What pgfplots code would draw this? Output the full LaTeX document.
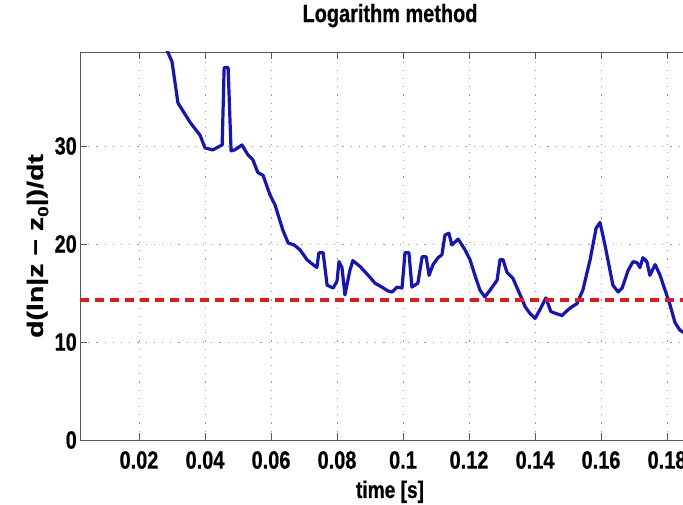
\documentclass[border=0pt]{standalone}
\usepackage{fontspec}
\setmainfont{Liberation Sans}[FakeStretch=0.8, FakeBold=0.6]
\newfontfamily\ylfont{Liberation Sans}[FakeStretch=1.27, FakeBold=0.6]
\usepackage{pgfplots}
\pgfplotsset{compat=1.18}
\definecolor{mblue}{RGB}{20,20,190}
\definecolor{mred}{RGB}{230,25,25}
\begin{document}
\begin{tikzpicture}[x=1bp,y=1bp]
\useasboundingbox (0,0) rectangle (683,505);
\begin{axis}[
  at={(80bp,65bp)}, anchor=south west,
  scale only axis, width=620bp, height=388bp,
  xmin=0.00212, xmax=0.19, ymin=0, ymax=39.59,
  xtick={0.02,0.04,0.06,0.08,0.1,0.12,0.14,0.16,0.18},
  xticklabels={0.02,0.04,0.06,0.08,0.1,0.12,0.14,0.16,0.18},
  ytick={0,10,20,30},
  yticklabels={0,10,20,30},
  scaled x ticks=false,
  /pgf/number format/assume math mode=true,
  tick align=inside,
  major tick length=7bp,
  tick style={black!65, line width=0.9bp},
  axis line style={black!65, line width=0.9bp},
  grid=major,
  major grid style={gray!80, line width=0.8bp, dash pattern=on 1.2bp off 7bp},
  xticklabel style={font=\fontsize{25}{28}\selectfont\bfseries, anchor=north, inner sep=0pt, yshift=-11bp},
  yticklabel style={font=\fontsize{25}{28}\selectfont\bfseries, anchor=east, inner sep=0pt, xshift=-3bp},
  title={Logarithm method},
  title style={font=\fontsize{25}{28}\selectfont\bfseries, at={(axis description cs:0.5,1)}, anchor=base, yshift=24bp},
  xlabel={time [s]},
  xlabel style={font=\fontsize{24}{28}\selectfont\bfseries, at={(axis description cs:0.5,0)}, anchor=base, yshift=-58bp},
  ylabel={d(ln|z − z\raisebox{-0.45ex}{\fontsize{15}{15}\selectfont 0}|)/dt},
  ylabel style={font=\fontsize{22.5}{26}\selectfont\ylfont\bfseries, at={(axis description cs:-0.0597,0.5)}, anchor=base},
]
\addplot[mblue, line width=3.2bp, line join=round] coordinates {
(0.0262,41.5) (0.0300,38.6) (0.0318,34.4) (0.0355,32.4) (0.0385,31.1)
(0.0400,29.8) (0.0424,29.6) (0.0440,29.9) (0.0452,30.1) (0.0458,38.0)
(0.0470,38.0) (0.0479,29.5) (0.0490,29.6) (0.0512,30.1) (0.0530,29.1)
(0.0545,28.6) (0.0560,27.3) (0.0576,27.0) (0.0597,25.0) (0.0612,24.0)
(0.0636,21.4) (0.0652,20.1) (0.0670,19.9) (0.0688,19.4) (0.0709,18.4)
(0.0727,17.9) (0.0739,17.6) (0.0745,19.1) (0.0758,19.1) (0.0770,15.8)
(0.0788,15.5) (0.0800,16.2) (0.0806,18.2) (0.0815,17.6) (0.0824,14.8)
(0.0839,17.3) (0.0848,18.3) (0.0870,17.7) (0.0900,16.6) (0.0915,16.0)
(0.0936,15.6) (0.0955,15.2) (0.0967,15.1) (0.0982,15.6) (0.0997,15.5)
(0.1006,19.1) (0.1018,19.1) (0.1027,15.6) (0.1045,16.0) (0.1058,18.7)
(0.1070,18.7) (0.1079,16.8) (0.1091,17.9) (0.1106,18.6) (0.1118,18.9)
(0.1127,20.9) (0.1139,21.1) (0.1148,19.9) (0.1167,20.5) (0.1188,19.4)
(0.1203,18.4) (0.1218,16.8) (0.1233,15.3) (0.1248,14.6) (0.1264,15.3)
(0.1285,16.3) (0.1294,18.4) (0.1303,18.4) (0.1315,17.1) (0.1333,16.5)
(0.1355,14.8) (0.1370,13.6) (0.1385,12.9) (0.1400,12.4) (0.1415,13.3)
(0.1433,14.5) (0.1448,13.1) (0.1464,12.9) (0.1482,12.7) (0.1497,13.2)
(0.1512,13.6) (0.1527,13.9) (0.1545,15.3) (0.1567,18.4) (0.1585,21.6)
(0.1597,22.2) (0.1612,19.9) (0.1636,15.8) (0.1652,15.1) (0.1664,15.5)
(0.1682,17.3) (0.1697,18.2) (0.1709,18.1) (0.1718,17.6) (0.1727,18.6)
(0.1739,18.2) (0.1748,16.8) (0.1764,17.9) (0.1779,16.8) (0.1794,15.3)
(0.1809,13.8) (0.1824,12.0) (0.1839,11.2) (0.1860,10.8)
};
\addplot[mred, line width=3.5bp, dash pattern=on 9bp off 6bp] coordinates {(0.00212,14.3) (0.19,14.3)};
\end{axis}
\end{tikzpicture}
\end{document}
